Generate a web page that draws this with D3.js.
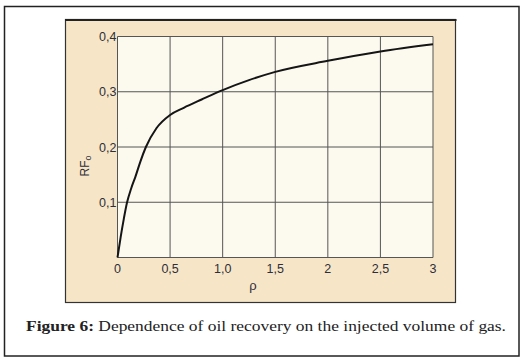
<!DOCTYPE html>
<html lang="en">
<head>
<meta charset="UTF-8">
<title>Oil recovery vs injected gas</title>
<script src="https://d3js.org/d3.v7.min.js"></script>
<style>
    body { margin: 0; background: #fff; }
    .sans { font-family: "Liberation Sans", Arial, sans-serif; }
    .caption { font-family: "Liberation Serif", "DejaVu Serif", serif; }
</style>
</head>
<body>
<div id="chart"></div>
<script>
    // curve
    const rho = [0, 0.03, 0.06, 0.09, 0.13, 0.17, 0.22, 0.27, 0.37, 0.5, 0.63, 0.8, 1.0, 1.25, 1.5, 2.0, 2.5, 3.0];
    const rf = [0, 0.037, 0.07, 0.099, 0.125, 0.146, 0.175, 0.2, 0.234, 0.258, 0.271, 0.286, 0.303, 0.321, 0.336, 0.356, 0.373, 0.386];
    const xTicks = [0, 0.5, 1.0, 1.5, 2, 2.5, 3];
    const xTickLabels = ["0", "0,5", "1,0", "1,5", "2", "2,5", "3"];
    const yTicks = [0.1, 0.2, 0.3, 0.4];
    const yTickLabels = ["0,1", "0,2", "0,3", "0,4"];

    const W = 524, H = 360;
    const plot = { left: 117.5, right: 433, top: 36.5, bottom: 257.5 };

    const svg = d3.select("#chart").append("svg")
        .attr("width", W)
        .attr("height", H);

    // outer frame
    svg.append("rect")
        .attr("x", 4.5).attr("y", 6.5)
        .attr("width", 514.5).attr("height", 349.5)
        .attr("fill", "#fff")
        .attr("stroke", "#222")
        .attr("stroke-width", 1.5);

    // beige panel
    svg.append("rect")
        .attr("x", 65.5).attr("y", 19.5)
        .attr("width", 390).attr("height", 283)
        .attr("fill", "#f6e6c7")
        .attr("stroke", "#333")
        .attr("stroke-width", 1.2);
    svg.append("line")
        .attr("x1", 65).attr("x2", 456.5)
        .attr("y1", 20).attr("y2", 20)
        .attr("stroke", "#222").attr("stroke-width", 2);

    const x = d3.scaleLinear().domain([0, 3]).range([plot.left, plot.right]);
    const y = d3.scaleLinear().domain([0, 0.4]).range([plot.bottom, plot.top]);

    const g = svg.append("g");

    g.append("rect")
        .attr("x", plot.left).attr("y", plot.top)
        .attr("width", plot.right - plot.left)
        .attr("height", plot.bottom - plot.top)
        .attr("fill", "#fcf9ef");

    // grid
    g.selectAll(".vgrid")
        .data(xTicks)
        .enter().append("line")
        .attr("class", "vgrid")
        .attr("x1", d => x(d)).attr("x2", d => x(d))
        .attr("y1", plot.top).attr("y2", plot.bottom)
        .attr("stroke", "#555").attr("stroke-width", 1);

    g.selectAll(".hgrid")
        .data([0].concat(yTicks))
        .enter().append("line")
        .attr("class", "hgrid")
        .attr("x1", plot.left).attr("x2", plot.right)
        .attr("y1", d => y(d)).attr("y2", d => y(d))
        .attr("stroke", "#555").attr("stroke-width", 1);

    // tick labels
    g.selectAll(".xlab")
        .data(xTicks)
        .enter().append("text")
        .attr("class", "xlab sans")
        .attr("x", d => x(d))
        .attr("y", plot.bottom + 15)
        .attr("text-anchor", "middle")
        .attr("font-size", 12.5)
        .attr("fill", "#2e2e3a")
        .text((d, i) => xTickLabels[i]);

    g.selectAll(".ylab")
        .data(yTicks)
        .enter().append("text")
        .attr("class", "ylab sans")
        .attr("x", plot.left - 1)
        .attr("y", d => y(d) + 4.5)
        .attr("text-anchor", "end")
        .attr("font-size", 12.5)
        .attr("fill", "#2e2e3a")
        .text((d, i) => yTickLabels[i]);

    // axis titles
    svg.append("text")
        .attr("class", "sans")
        .attr("x", 253).attr("y", 290)
        .attr("text-anchor", "middle")
        .attr("font-size", 13)
        .attr("fill", "#2e2e3a")
        .text("ρ");

    const yt = svg.append("text")
        .attr("class", "sans")
        .attr("transform", "translate(89,166) rotate(-90)")
        .attr("text-anchor", "middle")
        .attr("font-size", 12)
        .attr("fill", "#2e2e3a");
    yt.append("tspan").text("RF");
    yt.append("tspan").attr("font-size", 9).attr("dy", 2).text("o");

    // curve
    const pts = rho.map((r, i) => [r, rf[i]]);
    g.append("path")
        .datum(pts)
        .attr("fill", "none")
        .attr("stroke", "#151515")
        .attr("stroke-width", 2)
        .attr("d", d3.line()
            .x(d => x(d[0]))
            .y(d => y(d[1]))
            .curve(d3.curveMonotoneX));

    // caption
    const cap = svg.append("text")
        .attr("class", "caption")
        .attr("x", 26).attr("y", 331)
        .attr("font-size", 14.5)
        .attr("fill", "#222")
        .attr("textLength", 480)
        .attr("lengthAdjust", "spacingAndGlyphs");
    cap.append("tspan").attr("font-weight", "bold").text("Figure 6:");
    cap.append("tspan").text(" Dependence of oil recovery on the injected volume of gas.");
</script>
</body>
</html>
